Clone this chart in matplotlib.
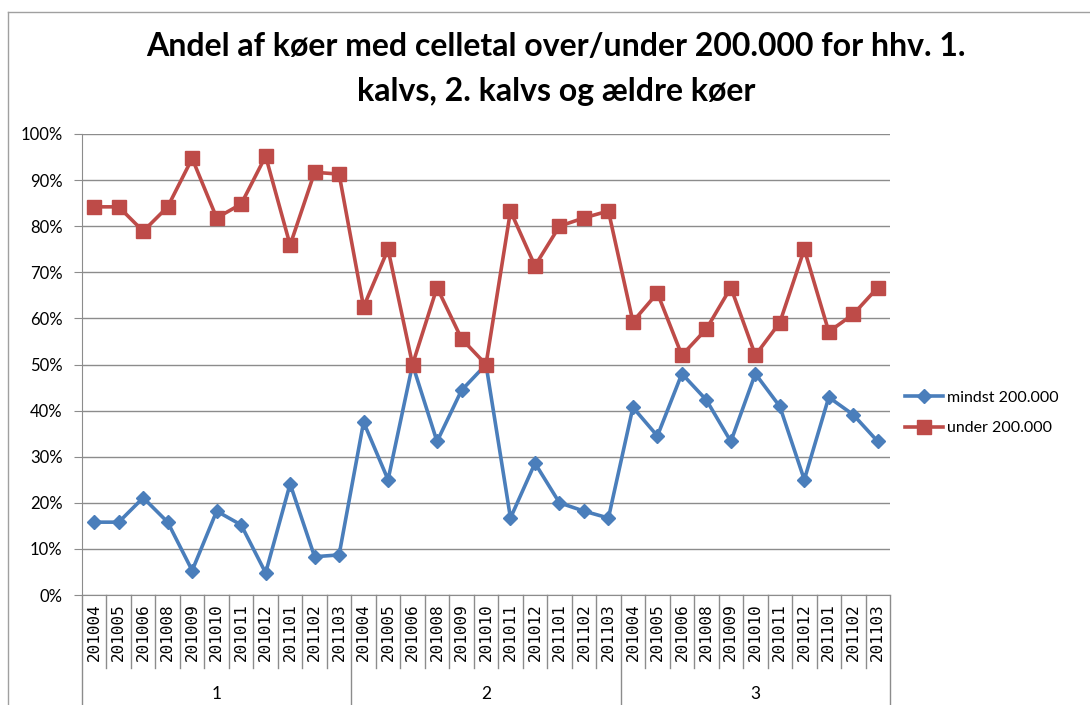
import matplotlib.pyplot as plt
import matplotlib.transforms as mtransforms
import numpy as np

# --- data ---
GROUPS = ["1", "2", "3"]
MONTHS = ["201004", "201005", "201006", "201008", "201009", "201010",
          "201011", "201012", "201101", "201102", "201103"]

# mindst 200.000 (in %)
mindst = [15.8, 15.8, 21.1, 15.8, 5.3, 18.2, 15.2, 4.8, 24.1, 8.3, 8.7,
          37.5, 25.0, 50.0, 33.3, 44.4, 50.0, 16.7, 28.6, 20.0, 18.2, 16.7,
          40.7, 34.5, 48.0, 42.3, 33.3, 48.0, 40.9, 25.0, 42.9, 39.1, 33.3]
# under 200.000 (in %)
under = [84.2, 84.2, 78.9, 84.2, 94.7, 81.8, 84.8, 95.2, 75.9, 91.7, 91.3,
         62.5, 75.0, 50.0, 66.7, 55.6, 50.0, 83.3, 71.4, 80.0, 81.8, 83.3,
         59.3, 65.5, 52.0, 57.7, 66.7, 52.0, 59.1, 75.0, 57.1, 60.9, 66.7]

BLUE = "#4A7EBB"
RED = "#BE4B48"
GRID = "#8C8C8C"

labels = MONTHS * len(GROUPS)
x = np.arange(len(labels))

fig = plt.figure(figsize=(10.9, 7.05), dpi=100)
ax = fig.add_axes([82 / 1090, 1 - 595 / 705, 808 / 1090, 461 / 705])

ax.plot(x, mindst, color=BLUE, lw=2.6, marker="D", ms=7.5, label="mindst 200.000")
ax.plot(x, under, color=RED, lw=2.6, marker="s", ms=10, label="under 200.000")

ax.set_xlim(-0.5, len(labels) - 0.5)
ax.set_ylim(0, 100)
ax.set_yticks(np.arange(0, 101, 10))
ax.set_yticklabels([f"{v}%" for v in range(0, 101, 10)], fontsize=12, family="Lato")
ax.yaxis.grid(True, color=GRID, lw=1)
ax.set_axisbelow(True)
ax.tick_params(axis="y", length=6, color=GRID, pad=8)
ax.tick_params(axis="x", length=0, pad=6)
ax.set_xticks(x)
ax.set_xticklabels(labels, rotation=90, fontsize=11.5, family="DejaVu Sans Mono")
for s in ["top", "right"]:
    ax.spines[s].set_visible(False)
ax.spines["left"].set_color(GRID)
ax.spines["bottom"].set_color(GRID)

# category / group separators under the axis
trans = mtransforms.blended_transform_factory(ax.transData, ax.transAxes)
short_end = -(668 - 595) / 461
long_end = -(705 - 595) / 461
n_per = len(MONTHS)
for k in range(len(labels) + 1):
    xe = k - 0.5
    end = long_end if k % n_per == 0 else short_end
    ax.plot([xe, xe], [0, end], color=GRID, lw=1, transform=trans, clip_on=False)
for g, name in enumerate(GROUPS):
    xc = g * n_per + (n_per - 1) / 2
    ax.text(xc, -(694 - 595) / 461, name, transform=trans, ha="center", va="center",
            fontsize=12.5, family="Lato")

# title
fig.text(556 / 1090, 1 - 47 / 705, "Andel af køer med celletal over/under 200.000 for hhv. 1.",
         ha="center", va="center", fontsize=23, weight="bold", family="Lato")
fig.text(556 / 1090, 1 - 92 / 705, "kalvs, 2. kalvs og ældre køer",
         ha="center", va="center", fontsize=23, weight="bold", family="Lato")

# legend
fig.legend(loc="center left", bbox_to_anchor=(905 / 1090, 1 - 413 / 705), frameon=False,
           borderaxespad=0, borderpad=0, handlelength=2.4, handletextpad=0.2,
           labelspacing=1.0, prop={"family": "Lato", "size": 11.5})

# chart border (left and top visible)
fig.add_artist(plt.Line2D([8 / 1090, 8 / 1090], [0, 1 - 12 / 705], color="#A0A0A0", lw=1))
fig.add_artist(plt.Line2D([8 / 1090, 1], [1 - 12 / 705, 1 - 12 / 705], color="#A0A0A0", lw=1))

fig.savefig("out.png", dpi=100)
